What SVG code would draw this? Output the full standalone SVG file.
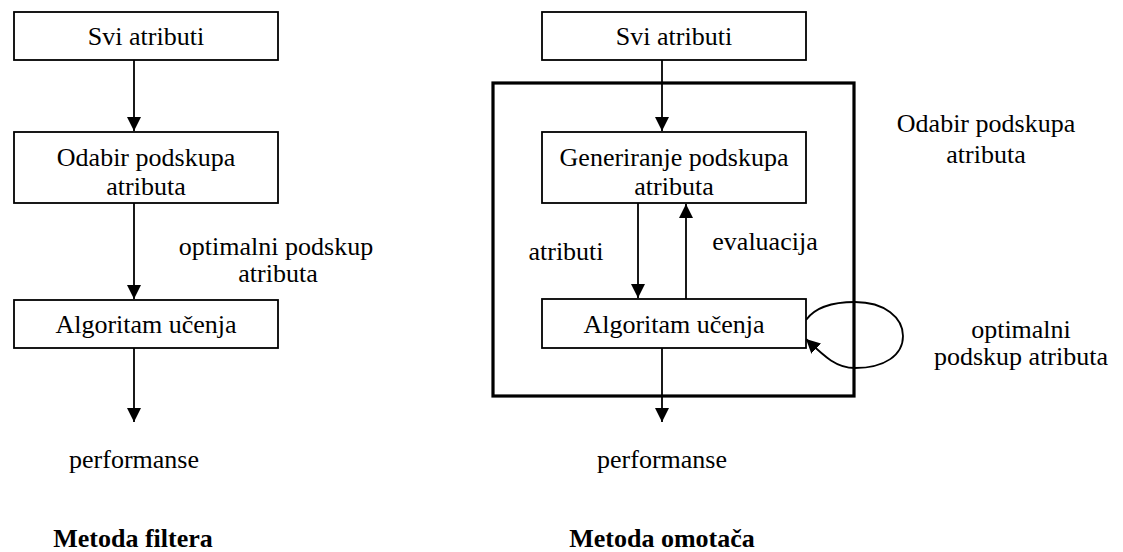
<svg xmlns="http://www.w3.org/2000/svg" width="1123" height="552" viewBox="0 0 1123 552">
<defs>
<marker id="ah" viewBox="0 0 14 14" refX="14" refY="7" markerWidth="14" markerHeight="14" markerUnits="userSpaceOnUse" orient="auto">
<path d="M0,0 L14,7 L0,14 Z" fill="#000"/>
</marker>
</defs>
<rect width="1123" height="552" fill="#fff"/>
<g id="wrapper-frame"><rect x="493" y="83" width="361" height="313" fill="none" stroke="#000" stroke-width="3.2"/></g>
<g id="connectors" fill="none" stroke="#000" stroke-width="1.8">
<line x1="134" y1="60" x2="134" y2="131" marker-end="url(#ah)"/>
<line x1="134" y1="203" x2="134" y2="299" marker-end="url(#ah)"/>
<line x1="134" y1="348" x2="134" y2="422" marker-end="url(#ah)"/>
<line x1="662" y1="60" x2="662" y2="131" marker-end="url(#ah)"/>
<line x1="638" y1="203" x2="638" y2="298" marker-end="url(#ah)"/>
<line x1="686" y1="299" x2="686" y2="204" marker-end="url(#ah)"/>
<line x1="662" y1="348" x2="662" y2="422" marker-end="url(#ah)"/>
<path d="M806,320 C816,306 835,302 855,302 C885,302 903,318 903,336 C903,355 885,368 855,368 C836,368 824,356 806,339" marker-end="url(#ah)"/>
</g>
<g id="l-svi"><rect x="14" y="12" width="264" height="48" fill="#fff" stroke="#000" stroke-width="1.8"/><text x="146" y="45" font-family="Liberation Serif" font-size="26" text-anchor="middle">Svi atributi</text></g>
<g id="l-odabir"><rect x="14" y="132" width="264" height="71" fill="#fff" stroke="#000" stroke-width="1.8"/><text x="146" y="166" font-family="Liberation Serif" font-size="26" text-anchor="middle">Odabir podskupa</text><text x="146" y="195" font-family="Liberation Serif" font-size="26" text-anchor="middle">atributa</text></g>
<g id="l-algoritam"><rect x="14" y="300" width="264" height="48" fill="#fff" stroke="#000" stroke-width="1.8"/><text x="146" y="333" font-family="Liberation Serif" font-size="26" text-anchor="middle">Algoritam učenja</text></g>
<g id="l-labels">
<text x="276" y="255" font-family="Liberation Serif" font-size="26" text-anchor="middle">optimalni podskup</text>
<text x="278" y="282" font-family="Liberation Serif" font-size="26" text-anchor="middle">atributa</text>
<text x="134" y="468" font-family="Liberation Serif" font-size="26" text-anchor="middle">performanse</text>
<text x="133" y="547" font-family="Liberation Serif" font-size="26" font-weight="bold" text-anchor="middle">Metoda filtera</text>
</g>
<g id="r-svi"><rect x="542" y="12" width="264" height="48" fill="#fff" stroke="#000" stroke-width="1.8"/><text x="674" y="45" font-family="Liberation Serif" font-size="26" text-anchor="middle">Svi atributi</text></g>
<g id="r-generiranje"><rect x="542" y="132" width="264" height="71" fill="#fff" stroke="#000" stroke-width="1.8"/><text x="674" y="166" font-family="Liberation Serif" font-size="26" text-anchor="middle">Generiranje podskupa</text><text x="674" y="195" font-family="Liberation Serif" font-size="26" text-anchor="middle">atributa</text></g>
<g id="r-algoritam"><rect x="542" y="299" width="264" height="49" fill="#fff" stroke="#000" stroke-width="1.8"/><text x="674" y="333" font-family="Liberation Serif" font-size="26" text-anchor="middle">Algoritam učenja</text></g>
<g id="r-labels">
<text x="566" y="260" font-family="Liberation Serif" font-size="26" text-anchor="middle">atributi</text>
<text x="765" y="250" font-family="Liberation Serif" font-size="26" text-anchor="middle">evaluacija</text>
<text x="986" y="132" font-family="Liberation Serif" font-size="26" text-anchor="middle">Odabir podskupa</text>
<text x="986" y="163" font-family="Liberation Serif" font-size="26" text-anchor="middle">atributa</text>
<text x="1021" y="338" font-family="Liberation Serif" font-size="26" text-anchor="middle">optimalni</text>
<text x="1021" y="365" font-family="Liberation Serif" font-size="26" text-anchor="middle">podskup atributa</text>
<text x="662" y="468" font-family="Liberation Serif" font-size="26" text-anchor="middle">performanse</text>
<text x="662" y="547" font-family="Liberation Serif" font-size="26" font-weight="bold" text-anchor="middle">Metoda omotača</text>
</g>
</svg>
